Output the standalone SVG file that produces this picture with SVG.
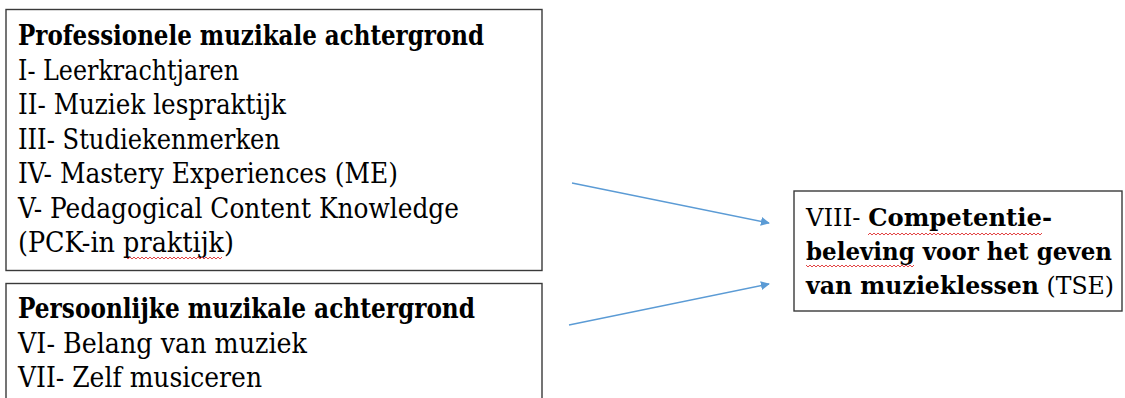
<svg xmlns="http://www.w3.org/2000/svg" width="1125" height="398" viewBox="0 0 1125 398">
  <style>
    .box { fill: #ffffff; stroke: #3a3a3a; stroke-width: 1.4; }
    .t { font-family: 'DejaVu Serif', 'Liberation Serif', serif; font-size: 27px; fill: #000000; }
    .r { font-size: 23.5px; }
    .b { font-weight: bold; }
    .conn { stroke: #5b9bd5; stroke-width: 1.4; fill: none; }
    .spell { fill: url(#wave); }
  </style>
  <defs>
    <marker id="arrow" viewBox="0 0 10 10" refX="9" refY="5" markerWidth="9" markerHeight="9" markerUnits="userSpaceOnUse" orient="auto">
      <path d="M0,0 L10,5 L0,10 Z" fill="#5b9bd5"/>
    </marker>
    <pattern id="wave" x="0" y="0" width="4" height="4" patternUnits="userSpaceOnUse">
      <path d="M0,3 L2,1 L4,3" fill="none" stroke="#e03030" stroke-width="0.9"/>
    </pattern>
  </defs>
  <rect x="0" y="0" width="1125" height="398" fill="#ffffff"/>

  <g id="node-professioneel">
    <rect class="box" x="6" y="9.5" width="536" height="261"/>
    <text class="t b" x="18" y="45" textLength="466" lengthAdjust="spacingAndGlyphs">Professionele muzikale achtergrond</text>
    <text class="t" x="18" y="79.5" textLength="221" lengthAdjust="spacingAndGlyphs">I- Leerkrachtjaren</text>
    <text class="t" x="18" y="114" textLength="268" lengthAdjust="spacingAndGlyphs">II- Muziek lespraktijk</text>
    <text class="t" x="18" y="148.5" textLength="262" lengthAdjust="spacingAndGlyphs">III- Studiekenmerken</text>
    <text class="t" x="18" y="183" textLength="380" lengthAdjust="spacingAndGlyphs">IV- Mastery Experiences (ME)</text>
    <text class="t" x="18" y="217.5" textLength="441" lengthAdjust="spacingAndGlyphs">V- Pedagogical Content Knowledge</text>
    <text class="t" x="18" y="252" textLength="216" lengthAdjust="spacingAndGlyphs">(PCK-in praktijk)</text>
    <rect class="spell" x="127" y="256" width="95" height="4"/>
  </g>

  <g id="node-persoonlijk">
    <rect class="box" x="6" y="283.5" width="536" height="130"/>
    <text class="t b" x="18" y="318" textLength="457" lengthAdjust="spacingAndGlyphs">Persoonlijke muzikale achtergrond</text>
    <text class="t" x="18" y="352.5" textLength="289" lengthAdjust="spacingAndGlyphs">VI- Belang van muziek</text>
    <text class="t" x="18" y="387" textLength="244" lengthAdjust="spacingAndGlyphs">VII- Zelf musiceren</text>
  </g>

  <g id="node-tse">
    <rect class="box" x="794" y="191" width="328" height="120"/>
    <text class="t r" x="806" y="226" textLength="246" lengthAdjust="spacingAndGlyphs">VIII- <tspan class="b">Competentie-</tspan></text>
    <text class="t r b" x="806" y="260" textLength="306" lengthAdjust="spacingAndGlyphs">beleving voor het geven</text>
    <text class="t r" x="806" y="294" textLength="308" lengthAdjust="spacingAndGlyphs"><tspan class="b">van muzieklessen</tspan> (TSE)</text>
    <rect class="spell" x="868" y="232" width="174" height="4"/>
    <rect class="spell" x="806" y="264" width="108" height="4"/>
  </g>

  <g id="connectors">
    <line class="conn" x1="572" y1="183" x2="769" y2="223" marker-end="url(#arrow)"/>
    <line class="conn" x1="569" y1="325" x2="769" y2="284" marker-end="url(#arrow)"/>
  </g>
</svg>
